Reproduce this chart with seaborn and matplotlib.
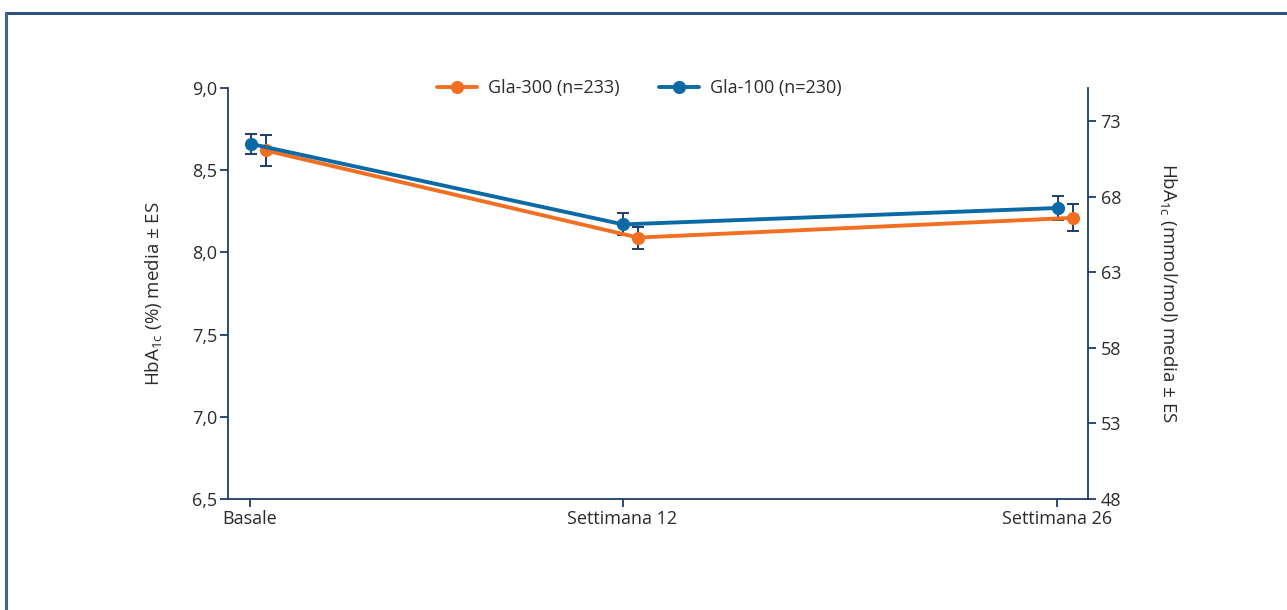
import pandas as pd
import matplotlib.pyplot as plt
import matplotlib.ticker as mticker
from matplotlib.lines import Line2D
import seaborn as sns

# data
time_labels = ['Basale', 'Settimana 12', 'Settimana 26']
weeks = [0, 12, 26]
series_names = ['Gla-300 (n=233)', 'Gla-100 (n=230)']
gla300_mean = [8.62, 8.09, 8.21]
gla300_se = [0.093, 0.067, 0.082]
gla100_mean = [8.66, 8.17, 8.27]
gla100_se = [0.063, 0.067, 0.074]
left_ticks = [6.5, 7.0, 7.5, 8.0, 8.5, 9.0]
right_ticks = [48, 53, 58, 63, 68, 73]

colors = {'Gla-300 (n=233)': '#f26f21', 'Gla-100 (n=230)': '#0b6aa6'}
offsets = {'Gla-300 (n=233)': 0.5, 'Gla-100 (n=230)': 0.02}
navy = '#1f3d66'
text_col = '#2b2b2b'

rows = []
for name, means, ses in [(series_names[0], gla300_mean, gla300_se),
                         (series_names[1], gla100_mean, gla100_se)]:
    for w, m, s in zip(weeks, means, ses):
        rows.append({'week': w + offsets[name], 'HbA1c': m, 'se': s, 'group': name})
df = pd.DataFrame(rows)

sns.set_theme(style='white')
plt.rcParams['font.family'] = ['Open Sans', 'DejaVu Sans']
plt.rcParams['mathtext.default'] = 'regular'
plt.rcParams['text.color'] = text_col
plt.rcParams['axes.labelcolor'] = text_col
plt.rcParams['xtick.color'] = text_col
plt.rcParams['ytick.color'] = text_col

fig = plt.figure(figsize=(12.87, 6.10), dpi=100)
ax = fig.add_axes([0.1772, 0.182, 0.6682, 0.6738])

# error bars under the markers
for name in series_names:
    sub = df[df['group'] == name]
    ax.errorbar(sub['week'], sub['HbA1c'], yerr=sub['se'], fmt='none',
                ecolor=navy, elinewidth=1.4, capsize=4.5, capthick=1.4, zorder=2)

sns.lineplot(data=df, x='week', y='HbA1c', hue='group', hue_order=series_names,
             palette=colors, marker='o', markersize=9.5, markeredgewidth=0,
             linewidth=2.8, ax=ax, zorder=3)

ax.set_xlim(-0.71, 27.0)
ax.set_ylim(6.5, 9.0)
ax.set_xticks(weeks)
ax.set_xticklabels(time_labels)
ax.set_yticks(left_ticks)
ax.yaxis.set_major_formatter(mticker.FuncFormatter(lambda v, p: f'{v:.1f}'.replace('.', ',')))
ax.set_xlabel('')
ax.set_ylabel(r'HbA$_{1c}$ (%) media ± ES', fontsize=13.5, labelpad=20)

for side in ['top', 'right']:
    ax.spines[side].set_visible(False)
for side in ['left', 'bottom']:
    ax.spines[side].set_color(navy)
    ax.spines[side].set_linewidth(1.3)
ax.tick_params(axis='both', direction='out', length=6, width=1.3, color=navy,
               labelsize=13, left=True, bottom=True, pad=2)

ax2 = ax.twinx()
ax2.set_ylim(48, 48 + 2.5 * 10.874)
ax2.set_yticks(right_ticks)
for side in ['top', 'left', 'bottom']:
    ax2.spines[side].set_visible(False)
ax2.spines['right'].set_color(navy)
ax2.spines['right'].set_linewidth(1.3)
ax2.tick_params(axis='y', direction='out', length=6, width=1.3, color=navy,
                labelsize=13, right=True, pad=3)
ax2.set_ylabel(r'HbA$_{1c}$ (mmol/mol) media ± ES', fontsize=13.5,
               rotation=-90, labelpad=42)

handles, labels = ax.get_legend_handles_labels()
ax.legend(handles, labels, loc='center', bbox_to_anchor=(0.478, 1.0), ncol=2,
          frameon=False, fontsize=13, handlelength=2.2, columnspacing=2.2,
          handletextpad=0.6)

# partial frame around the figure
fig.add_artist(Line2D([0.00505, 1.0], [0.978, 0.978], transform=fig.transFigure,
                      color='#2f5180', linewidth=2.2))
fig.add_artist(Line2D([0.00505, 0.00505], [0.0, 0.978], transform=fig.transFigure,
                      color='#3d6293', linewidth=2.2))

fig.savefig('out.png', dpi=100)
